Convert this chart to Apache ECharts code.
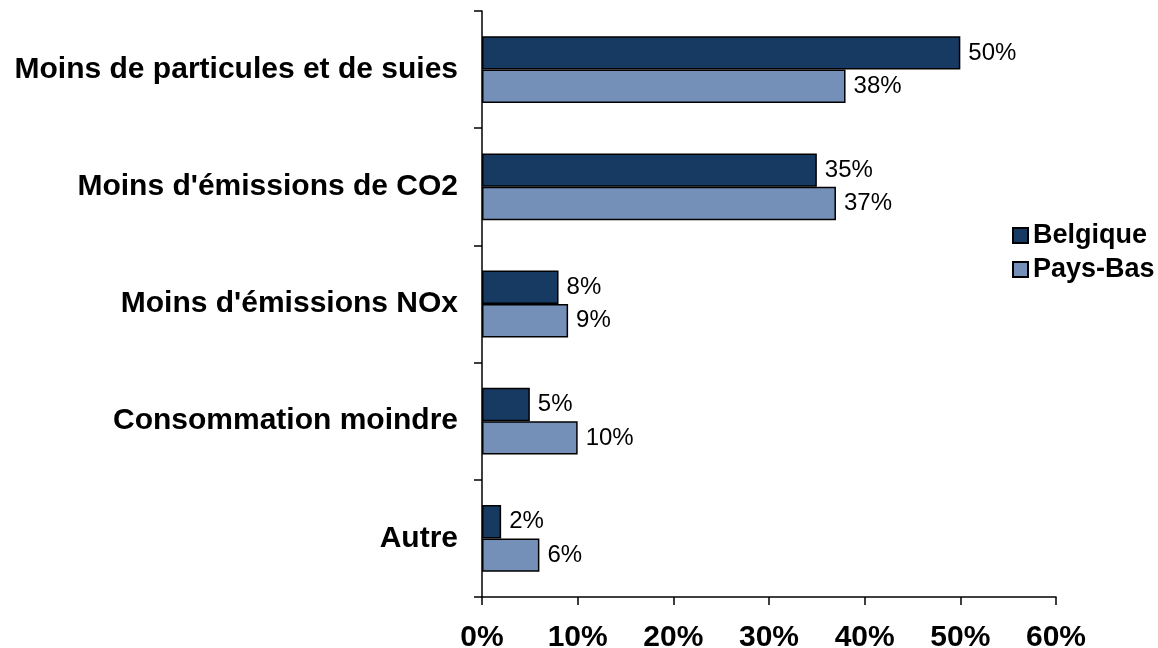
<!DOCTYPE html>
<html>
<head>
<meta charset="utf-8">
<script src="https://cdn.jsdelivr.net/npm/echarts@6/dist/echarts.min.js"></script>
<style>
html, body { margin: 0; padding: 0; background: #fff; }
#chart { width: 1158px; height: 648px; }
</style>
</head>
<body>
<div id="chart"></div>
<script>
// données
const categories = [
  "Moins de particules et de suies",
  "Moins d'émissions de CO2",
  "Moins d'émissions NOx",
  "Consommation moindre",
  "Autre"
];
const belgique = [50, 35, 8, 5, 2];
const paysBas = [38, 37, 9, 10, 6];

const myChart = echarts.init(document.getElementById("chart"));

const barLabel = {
  show: true,
  position: "right",
  distance: 8,
  formatter: "{c}%",
  color: "#000",
  fontSize: 24,
  fontFamily: "Liberation Sans"
};

const option = {
  animation: false,
  backgroundColor: "#fff",
  grid: { left: 482, right: 102, top: 11, bottom: 51, containLabel: false, outerBoundsMode: "none" },
  legend: {
    orient: "vertical",
    left: 1007,
    top: 217,
    itemWidth: 15,
    itemHeight: 15,
    itemGap: 7,
    icon: "rect",
    textStyle: { fontSize: 27, fontWeight: "bold", fontFamily: "Liberation Sans", color: "#000" },
    data: ["Belgique", "Pays-Bas"]
  },
  xAxis: {
    type: "value",
    min: 0,
    max: 60,
    interval: 10,
    splitLine: { show: false },
    axisLine: { show: true, lineStyle: { color: "#000", width: 1.5 } },
    axisTick: { show: true, length: 8, lineStyle: { color: "#000", width: 1.5 } },
    axisLabel: {
      formatter: "{value}%",
      margin: 26,
      fontSize: 30,
      fontWeight: "bold",
      fontFamily: "Liberation Sans",
      color: "#000"
    }
  },
  yAxis: {
    type: "category",
    inverse: true,
    data: categories,
    axisLine: { show: true, lineStyle: { color: "#000", width: 1.5 } },
    axisTick: { show: true, length: 8, lineStyle: { color: "#000", width: 1.5 } },
    axisLabel: {
      margin: 24,
      fontSize: 30,
      fontWeight: "bold",
      fontFamily: "Liberation Sans",
      color: "#000"
    }
  },
  series: [
    {
      name: "Belgique",
      type: "bar",
      data: belgique,
      barGap: "0%",
      barCategoryGap: "43%",
      itemStyle: { color: "#173a63", borderColor: "#000", borderWidth: 1.5 },
      label: barLabel
    },
    {
      name: "Pays-Bas",
      type: "bar",
      data: paysBas,
      itemStyle: { color: "#7490b8", borderColor: "#000", borderWidth: 1.5 },
      label: barLabel
    }
  ]
};

myChart.setOption(option);
</script>
</body>
</html>
